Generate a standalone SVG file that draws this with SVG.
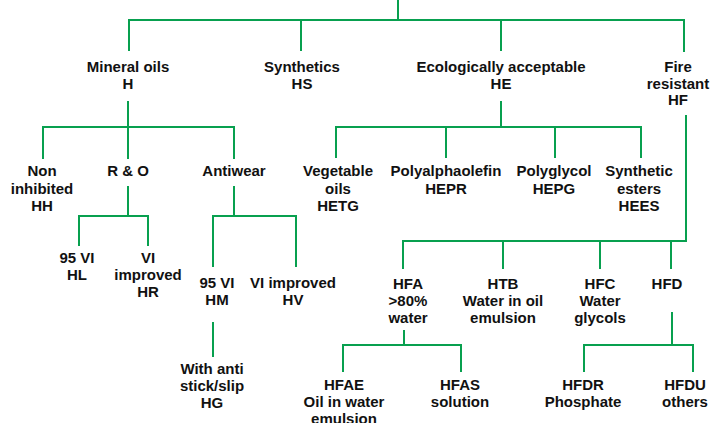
<svg xmlns="http://www.w3.org/2000/svg" width="712" height="423" viewBox="0 0 712 423">
<style>
.c{fill:none;stroke:#08a04f;stroke-width:2}
text{font-family:"Liberation Sans",Arial,sans-serif;font-weight:bold;font-size:15px;fill:#111;text-anchor:middle}
</style>
<rect width="712" height="423" fill="#fff"/>
<g id="connectors" class="c">
<path d="M398 0V20M129 51V20H684V52M301 20V51M501 20V51"/>
<path d="M128 101V127M43 159V127H234V159M128 127V159"/>
<path d="M128 186V216M79 246V216H148V246"/>
<path d="M234 186V216M213 267V216H296V267"/>
<path d="M213 322V357"/>
<path d="M501 101V127M336 158V127H641V158M446 127V158M555 127V158"/>
<path d="M686 115V241H403V269M503 241V269M600 241V269M671 241V269"/>
<path d="M404 330V345M343 372V345H461V372"/>
<path d="M672 312V345M584 372V345H693V372"/>
</g>
<g id="mineral"><text x="128" y="72">Mineral oils</text><text x="128" y="88.5">H</text></g>
<g id="synthetics"><text x="302" y="72">Synthetics</text><text x="302" y="88.5">HS</text></g>
<g id="eco"><text x="501" y="72">Ecologically acceptable</text><text x="501" y="88.5">HE</text></g>
<g id="fire"><text x="678" y="72">Fire</text><text x="678" y="88.5">resistant</text><text x="678" y="105">HF</text></g>
<g id="hh"><text x="42" y="176">Non</text><text x="42" y="193.5">inhibited</text><text x="42" y="211">HH</text></g>
<g id="ro"><text x="128" y="176">R &amp; O</text></g>
<g id="antiwear"><text x="234" y="176">Antiwear</text></g>
<g id="hl"><text x="77" y="263">95 VI</text><text x="77" y="280">HL</text></g>
<g id="hr"><text x="148" y="263">VI</text><text x="148" y="280">improved</text><text x="148" y="297">HR</text></g>
<g id="hm"><text x="217" y="288">95 VI</text><text x="217" y="305">HM</text></g>
<g id="hv"><text x="293" y="288">VI improved</text><text x="293" y="305">HV</text></g>
<g id="hg"><text x="212" y="374">With anti</text><text x="212" y="391">stick/slip</text><text x="212" y="408">HG</text></g>
<g id="hetg"><text x="338" y="176">Vegetable</text><text x="338" y="193.5">oils</text><text x="338" y="211">HETG</text></g>
<g id="hepr"><text x="446" y="176">Polyalphaolefin</text><text x="446" y="193.5">HEPR</text></g>
<g id="hepg"><text x="554" y="176">Polyglycol</text><text x="554" y="193.5">HEPG</text></g>
<g id="hees"><text x="639" y="176">Synthetic</text><text x="639" y="193.5">esters</text><text x="639" y="211">HEES</text></g>
<g id="hfa"><text x="408" y="289">HFA</text><text x="408" y="306">&gt;80%</text><text x="408" y="323">water</text></g>
<g id="htb"><text x="503" y="289">HTB</text><text x="503" y="306">Water in oil</text><text x="503" y="323">emulsion</text></g>
<g id="hfc"><text x="600" y="289">HFC</text><text x="600" y="306">Water</text><text x="600" y="323">glycols</text></g>
<g id="hfd"><text x="667" y="289">HFD</text></g>
<g id="hfae"><text x="344" y="390">HFAE</text><text x="344" y="407">Oil in water</text><text x="344" y="424">emulsion</text></g>
<g id="hfas"><text x="460" y="390">HFAS</text><text x="460" y="407">solution</text></g>
<g id="hfdr"><text x="583" y="390">HFDR</text><text x="583" y="407">Phosphate</text></g>
<g id="hfdu"><text x="685" y="390">HFDU</text><text x="685" y="407">others</text></g>
</svg>
